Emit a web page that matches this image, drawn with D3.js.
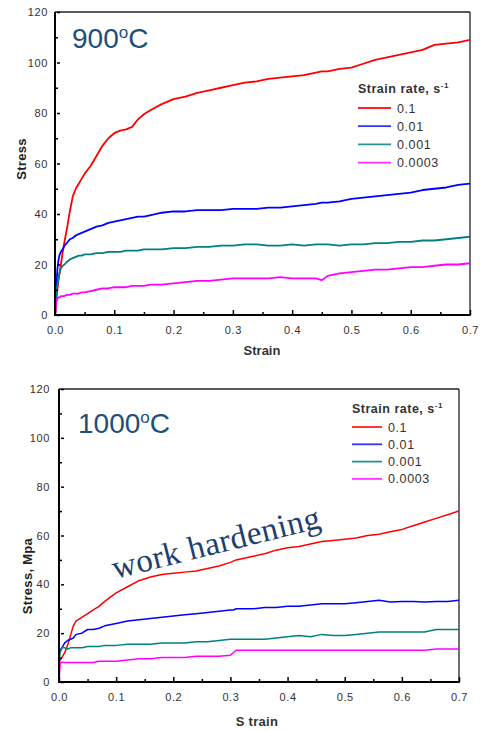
<!DOCTYPE html>
<html>
<head>
<meta charset="utf-8">
<script src="https://cdn.jsdelivr.net/npm/d3@7/dist/d3.min.js"></script>
<style>
  html, body { margin: 0; padding: 0; background: #fff; }
  svg { display: block; font-family: "Liberation Sans", Arial, sans-serif; }
</style>
</head>
<body>
<svg id="chart" width="480" height="731"></svg>
<script>
// ---------- DATA ----------
const seriesNames = ["0.1", "0.01", "0.001", "0.0003"];
const seriesColors = ["#ff0000", "#0000ff", "#008080", "#ff00ff"];
const legendColors = ["#ff2020", "#3333ff", "#2a9090", "#ff33ff"];

const xTicks = [0.0, 0.1, 0.2, 0.3, 0.4, 0.5, 0.6, 0.7];
const xTickLabels = ["0.0", "0.1", "0.2", "0.3", "0.4", "0.5", "0.6", "0.7"];
const yTicks = [0, 20, 40, 60, 80, 100, 120];
const yTickLabels = ["0", "20", "40", "60", "80", "100", "120"];

// 900 C
const strainTop = [0, 0.002, 0.004, 0.006, 0.008, 0.010, 0.013, 0.016, 0.020, 0.025,
  0.030, 0.035, 0.040, 0.045, 0.050, 0.060, 0.070, 0.080, 0.090, 0.100,
  0.110, 0.120, 0.130, 0.140, 0.150, 0.160, 0.180, 0.200, 0.220, 0.240,
  0.260, 0.280, 0.300, 0.320, 0.340, 0.360, 0.380, 0.400, 0.420, 0.440,
  0.450, 0.460, 0.480, 0.500, 0.520, 0.540, 0.560, 0.580, 0.600, 0.620,
  0.640, 0.660, 0.680, 0.700];
const top01 = [0, 5, 10, 14, 17, 20, 25, 29, 34, 41,
  47, 50, 52, 54, 56, 59, 63, 67, 70, 72,
  73, 73.5, 74.5, 77.5, 79.5, 81, 83.5, 85.5, 86.5, 88,
  89, 90, 91, 92, 92.5, 93.5, 94, 94.5, 95, 96,
  96.5, 96.5, 97.5, 98, 99.5, 101, 102, 103, 104, 105,
  107, 107.5, 108, 109];
const top001 = [0, 10, 18, 22, 24, 25, 26, 27.5, 28.5, 30,
  30.5, 31.5, 32, 32.5, 33, 34, 35, 35.5, 36.5, 37,
  37.5, 38, 38.5, 39, 39, 39.5, 40.5, 41, 41, 41.5,
  41.5, 41.5, 42, 42, 42, 42.5, 42.5, 43, 43.5, 44,
  44.5, 44.5, 45, 46, 46.5, 47, 47.5, 48, 48.5, 49.5,
  50, 50.5, 51.5, 52];
const top0001 = [0, 8, 12, 15, 17, 18.5, 19.5, 20, 21, 22,
  22.5, 23, 23.5, 23.5, 24, 24, 24.5, 24.5, 25, 25,
  25, 25.5, 25.5, 25.5, 26, 26, 26, 26.5, 26.5, 27,
  27, 27.5, 27.5, 28, 28, 27.5, 27.5, 28, 27.5, 28,
  28, 28, 27.5, 28, 28, 28.5, 28.5, 29, 29, 29.5,
  29.5, 30, 30.5, 31];
const top00003 = [0, 5, 6.5, 7, 7, 7.5, 7.5, 7.5, 8, 8,
  8.5, 8.5, 8.5, 9, 9, 9.5, 10, 10.5, 10.5, 11,
  11, 11, 11.5, 11.5, 11.5, 12, 12, 12.5, 13, 13.5,
  13.5, 14, 14.5, 14.5, 14.5, 14.5, 15, 14.5, 14.5, 14.5,
  13.8, 15.5, 16.5, 17, 17.5, 18, 18, 18.5, 19, 19,
  19.5, 20, 20, 20.5];

// 1000 C
const strainBot = [0, 0.002, 0.005, 0.01, 0.015, 0.02, 0.025, 0.03, 0.04, 0.05,
  0.06, 0.07, 0.08, 0.10, 0.12, 0.14, 0.16, 0.18, 0.20, 0.22,
  0.24, 0.26, 0.28, 0.30, 0.305, 0.31, 0.32, 0.34, 0.36, 0.38,
  0.40, 0.42, 0.44, 0.46, 0.48, 0.50, 0.52, 0.54, 0.56, 0.58,
  0.60, 0.62, 0.64, 0.66, 0.68, 0.70];
const bot01 = [8, 9, 10, 12, 15, 19, 23, 25, 26.5, 28,
  29.5, 31, 33, 36.5, 39, 41.5, 43, 44, 44.5, 45,
  45.5, 46.5, 47.5, 49, 49.5, 50, 50.5, 51.5, 52.5, 54,
  55, 55.5, 56.5, 57.5, 58, 58.5, 59, 60, 60.5, 61.5,
  62.5, 64, 65.5, 67, 68.5, 70];
const bot001 = [12, 13, 14, 16, 17, 17.5, 18, 19.5, 20, 21.5,
  21.5, 22, 23, 24, 25, 25.5, 26, 26.5, 27, 27.5,
  28, 28.5, 29, 29.5, 29.5, 30, 30, 30, 30.5, 30.5,
  31, 31, 31.5, 32, 32, 32, 32.5, 33, 33.5, 32.8,
  33, 33, 32.8, 33, 33, 33.5];
const bot0001 = [8, 12, 14, 14, 13.5, 14, 14, 14, 14, 14.5,
  14.5, 14.5, 15, 15, 15.5, 15.5, 15.5, 16, 16, 16,
  16.5, 16.5, 17, 17.5, 17.5, 17.5, 17.5, 17.5, 17.5, 18,
  18.5, 19, 18.5, 19.5, 19, 19, 19.5, 20, 20.5, 20.5,
  20.5, 20.5, 20.5, 21.5, 21.5, 21.5];
const bot00003 = [0, 8, 8, 8, 8, 8, 8, 8, 8, 8,
  8, 8.5, 8.5, 8.5, 9, 9.5, 9.5, 10, 10, 10,
  10.5, 10.5, 10.5, 11, 12, 13, 13, 13, 13, 13,
  13, 13, 13, 13, 13, 13, 13, 13, 13, 13,
  13, 13, 13, 13.5, 13.5, 13.5];

// ---------- DRAW ----------
const svg = d3.select("#chart");
const SANS = '"Liberation Sans", Arial, sans-serif';

function drawPanel(cfg) {
  const g = svg.append("g");
  const x = d3.scaleLinear().domain([0, 0.7]).range([cfg.left, cfg.right]);
  const y = d3.scaleLinear().domain([0, 120]).range([cfg.bottom, cfg.top]);

  // frame (top & right)
  g.append("line").attr("x1", cfg.left).attr("x2", cfg.right).attr("y1", cfg.top).attr("y2", cfg.top)
    .attr("stroke", "#222").attr("stroke-width", 1.3);
  g.append("line").attr("x1", cfg.right).attr("x2", cfg.right).attr("y1", cfg.top).attr("y2", cfg.bottom)
    .attr("stroke", "#222").attr("stroke-width", 1.3);

  // clip
  const clipId = "clip" + cfg.id;
  svg.append("clipPath").attr("id", clipId).append("rect")
    .attr("x", cfg.left).attr("y", cfg.top - 2).attr("width", cfg.right - cfg.left).attr("height", cfg.bottom - cfg.top + 2);

  const line = d3.line().x(d => x(d[0])).y(d => y(d[1]));
  cfg.series.forEach((vals, i) => {
    const pts = cfg.strain.map((s, j) => [s, vals[j]]);
    g.append("path").attr("d", line(pts)).attr("fill", "none")
      .attr("stroke", seriesColors[i]).attr("stroke-width", cfg.lw)
      .attr("stroke-linejoin", "round")
      .attr("clip-path", `url(#${clipId})`);
  });

  // minor ticks
  const xMinor = d3.axisBottom(x).tickValues([0.05, 0.15, 0.25, 0.35, 0.45, 0.55, 0.65]).tickSize(-3).tickFormat("");
  g.append("g").attr("transform", `translate(0,${cfg.bottom})`).call(xMinor)
    .call(a => a.select(".domain").remove()).selectAll("line").attr("stroke", "#000").attr("stroke-width", 1.5);
  const yMinor = d3.axisLeft(y).tickValues([10, 30, 50, 70, 90, 110]).tickSize(-3).tickFormat("");
  g.append("g").attr("transform", `translate(${cfg.left},0)`).call(yMinor)
    .call(a => a.select(".domain").remove()).selectAll("line").attr("stroke", "#000").attr("stroke-width", 1.5);

  // major x axis
  const xAxis = d3.axisBottom(x).tickValues(xTicks).tickSize(-5).tickPadding(11)
    .tickFormat((d, i) => xTickLabels[i]);
  const xa = g.append("g").attr("transform", `translate(0,${cfg.bottom})`).call(xAxis);
  xa.select(".domain").remove();
  xa.selectAll("line").attr("stroke", "#000").attr("stroke-width", 1.5);
  xa.selectAll("text").attr("font-size", 11).attr("fill", "#333").attr("letter-spacing", 0.6)
    .style("font-family", SANS);

  // major y axis
  const yAxis = d3.axisLeft(y).tickValues(yTicks).tickSize(-5).tickPadding(cfg.ypad)
    .tickFormat((d, i) => yTickLabels[i]);
  const ya = g.append("g").attr("transform", `translate(${cfg.left},0)`).call(yAxis);
  ya.select(".domain").remove();
  ya.selectAll("line").attr("stroke", "#000").attr("stroke-width", 1.5).attr("x1", 2);
  ya.selectAll("text").attr("font-size", 11).attr("fill", "#333").attr("letter-spacing", 0.6)
    .style("font-family", SANS);

  // axes lines
  g.append("line").attr("x1", cfg.left).attr("x2", cfg.right + 0.7).attr("y1", cfg.bottom).attr("y2", cfg.bottom)
    .attr("stroke", "#000").attr("stroke-width", 2);
  g.append("line").attr("x1", cfg.left).attr("x2", cfg.left).attr("y1", cfg.top).attr("y2", cfg.bottom + 1)
    .attr("stroke", "#000").attr("stroke-width", 2);

  // title
  const t = g.append("text").attr("x", cfg.titleX).attr("y", cfg.titleY)
    .attr("font-size", 28).attr("fill", "#1f4e7a").style("font-family", SANS);
  t.append("tspan").text(cfg.titleNum);
  t.append("tspan").attr("font-size", 17).attr("dy", -10).text("o");
  t.append("tspan").attr("dy", 10).text("C");

  // axis labels
  g.append("text").attr("x", cfg.xLabelX).attr("y", cfg.xLabelY).attr("text-anchor", "middle")
    .attr("font-size", 13).attr("font-weight", "bold").attr("fill", "#333").attr("letter-spacing", cfg.xLabelLS)
    .style("font-family", SANS).text(cfg.xLabel);
  g.append("text").attr("transform", `translate(${cfg.yLabelX},${cfg.yLabelY}) rotate(-90)`)
    .attr("text-anchor", "middle").attr("font-size", 13).attr("font-weight", "bold").attr("fill", "#222")
    .attr("letter-spacing", 0.3).style("font-family", SANS).text(cfg.yLabel);

  // legend
  const lg = g.append("g");
  const h = lg.append("text").attr("x", cfg.legX).attr("y", cfg.legY).attr("font-size", 12.5)
    .attr("font-weight", "bold").attr("fill", "#333").attr("letter-spacing", 0.5).style("font-family", SANS);
  h.append("tspan").text("Strain rate, s");
  h.append("tspan").attr("font-size", 8).attr("dy", -5).text("-1");
  seriesNames.forEach((n, i) => {
    const yy = cfg.legY0 + i * cfg.legDy;
    lg.append("line").attr("x1", cfg.legX).attr("x2", cfg.legX + cfg.legLen).attr("y1", yy).attr("y2", yy)
      .attr("stroke", legendColors[i]).attr("stroke-width", 1.8);
    lg.append("text").attr("x", cfg.legX + cfg.legLen + 6).attr("y", yy + 4.5).attr("font-size", 12.5)
      .attr("fill", "#333").attr("letter-spacing", 0.6).style("font-family", SANS).text(n);
  });
  return { g, x, y };
}

drawPanel({
  id: "top", left: 55, right: 470, top: 12, bottom: 315, lw: 1.8, ypad: 7,
  strain: strainTop, series: [top01, top001, top0001, top00003],
  titleNum: "900", titleX: 72, titleY: 48,
  xLabel: "Strain", xLabelX: 262, xLabelY: 355, xLabelLS: 0,
  yLabel: "Stress", yLabelX: 26, yLabelY: 159,
  legX: 358, legY: 93, legY0: 108, legDy: 18.2, legLen: 33
});

const bot = drawPanel({
  id: "bot", left: 59, right: 459, top: 389, bottom: 682, lw: 1.5, ypad: 9,
  strain: strainBot, series: [bot01, bot001, bot0001, bot00003],
  titleNum: "1000", titleX: 78, titleY: 433,
  xLabel: "S train", xLabelX: 257, xLabelY: 726, xLabelLS: 0.3,
  yLabel: "Stress, Mpa", yLabelX: 32, yLabelY: 576,
  legX: 352, legY: 413, legY0: 427, legDy: 17.3, legLen: 30
});

// annotation
bot.g.append("text")
  .attr("transform", "translate(115,579) rotate(-14)")
  .style("font-family", '"Liberation Serif", "Times New Roman", serif')
  .attr("font-size", 33).attr("fill", "#1f3f6e").attr("letter-spacing", 0.4)
  .text("work hardening");
</script>
</body>
</html>
